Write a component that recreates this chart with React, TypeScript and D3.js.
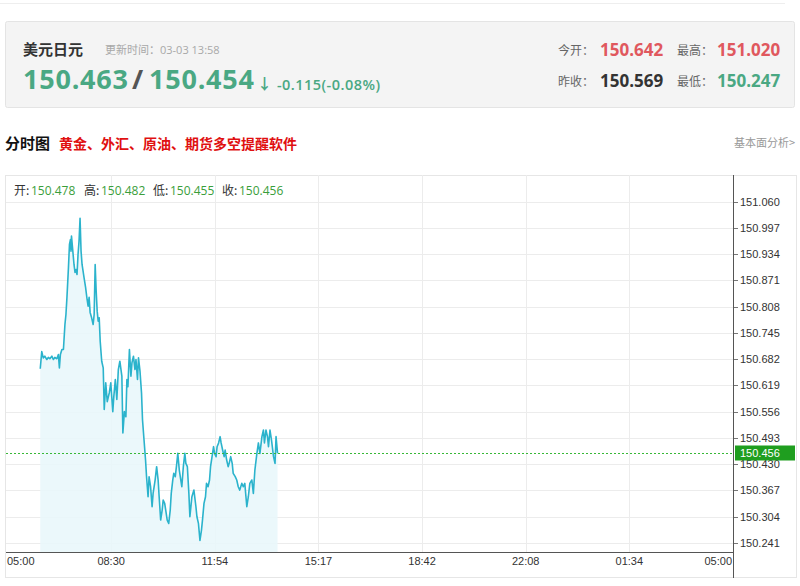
import React from 'react';
import * as d3 from 'd3';

// quote header
const quoteName = '美元日元';
const updateTime = '更新时间：03-03 13:58';
const bidAsk = ['150.463', '150.454'];
const change = '-0.115(-0.08%)';
const statLabels = ['今开：', '最高：', '昨收：', '最低：'];
const statValues = ['150.642', '151.020', '150.569', '150.247'];
const ohlcLabels = ['开:', '高:', '低:', '收:'];
const ohlcValues = ['150.478', '150.482', '150.455', '150.456'];
const lastPrice = 150.456;

// axes
const yTicks = [151.060, 150.997, 150.934, 150.871, 150.808, 150.745, 150.682, 150.619,
    150.556, 150.493, 150.430, 150.367, 150.304, 150.241];
const xTickLabels = ['05:00', '08:30', '11:54', '15:17', '18:42', '22:08', '01:34', '05:00'];

// intraday series (time, price)
const times = [
    '06:05', '06:08', '06:11', '06:14', '06:18', '06:21', '06:24', '06:28', '06:31', '06:34',
    '06:38', '06:41', '06:43', '06:45', '06:48', '06:51', '06:54', '06:56', '06:58', '07:01',
    '07:03', '07:05', '07:06', '07:07', '07:09', '07:12', '07:14', '07:16', '07:18', '07:20',
    '07:22', '07:24', '07:26', '07:28', '07:32', '07:35', '07:38', '07:40', '07:42', '07:44',
    '07:47', '07:50', '07:52', '07:54', '07:56', '07:58', '08:00', '08:02', '08:04', '08:07',
    '08:10', '08:12', '08:15', '08:18', '08:22', '08:25', '08:29', '08:31', '08:34', '08:37',
    '08:40', '08:43', '08:47', '08:49', '08:52', '08:55', '08:57', '08:59', '09:02', '09:05',
    '09:07', '09:10', '09:13', '09:15', '09:18', '09:20', '09:23', '09:26', '09:28', '09:31',
    '09:34', '09:36', '09:39', '09:41', '09:44', '09:47', '09:49', '09:53', '09:56', '09:59',
    '10:01', '10:04', '10:07', '10:09', '10:12', '10:15', '10:17', '10:20', '10:23', '10:25',
    '10:28', '10:30', '10:33', '10:36', '10:38', '10:41', '10:44', '10:46', '10:49', '10:52',
    '10:54', '10:57', '11:00', '11:02', '11:06', '11:10', '11:14', '11:16', '11:19', '11:22',
    '11:25', '11:27', '11:30', '11:33', '11:35', '11:38', '11:41', '11:43', '11:46', '11:49',
    '11:51', '11:54', '11:56', '11:59', '12:02', '12:04', '12:07', '12:10', '12:12', '12:15',
    '12:18', '12:20', '12:23', '12:26', '12:28', '12:32', '12:35', '12:38', '12:41', '12:45',
    '12:48', '12:51', '12:55', '12:58', '13:01', '13:05', '13:08', '13:11', '13:15', '13:18',
    '13:21', '13:25', '13:28', '13:30', '13:33', '13:36', '13:38', '13:41', '13:44', '13:48',
    '13:51', '13:53', '13:56'
];
const prices = [
    150.659, 150.700, 150.685, 150.689, 150.681, 150.686, 150.683, 150.689, 150.681, 150.686,
    150.683, 150.693, 150.661, 150.693, 150.705, 150.705, 150.765, 150.789, 150.830, 150.902,
    150.957, 150.969, 150.941, 150.977, 150.950, 150.909, 150.890, 150.897, 150.885, 150.933,
    150.965, 151.020, 150.941, 150.909, 150.877, 150.854, 150.825, 150.809, 150.830, 150.794,
    150.781, 150.765, 150.789, 150.909, 150.845, 150.797, 150.773, 150.781, 150.725, 150.677,
    150.661, 150.561, 150.625, 150.580, 150.601, 150.625, 150.556, 150.592, 150.633, 150.585,
    150.657, 150.677, 150.641, 150.505, 150.556, 150.544, 150.633, 150.616, 150.705, 150.641,
    150.673, 150.689, 150.657, 150.681, 150.633, 150.685, 150.653, 150.601, 150.536, 150.488,
    150.440, 150.400, 150.352, 150.400, 150.376, 150.328, 150.360, 150.392, 150.424, 150.392,
    150.352, 150.296, 150.320, 150.344, 150.336, 150.312, 150.296, 150.288, 150.320, 150.360,
    150.392, 150.408, 150.400, 150.432, 150.456, 150.416, 150.392, 150.376, 150.424, 150.456,
    150.432, 150.424, 150.360, 150.304, 150.352, 150.368, 150.328, 150.304, 150.288, 150.247,
    150.272, 150.296, 150.336, 150.352, 150.384, 150.376, 150.392, 150.424, 150.448, 150.472,
    150.456, 150.448, 150.472, 150.481, 150.496, 150.481, 150.464, 150.448, 150.464, 150.440,
    150.424, 150.432, 150.448, 150.432, 150.408, 150.400, 150.392, 150.376, 150.368, 150.384,
    150.376, 150.384, 150.328, 150.352, 150.384, 150.392, 150.360, 150.416, 150.456, 150.481,
    150.456, 150.496, 150.512, 150.481, 150.512, 150.496, 150.472, 150.512, 150.488, 150.448,
    150.432, 150.496, 150.456
];

const FONT = "'Open Sans', 'Noto Sans CJK SC', sans-serif";
const CJK = "'Noto Sans CJK SC', sans-serif";
const AXIS_FONT = "'Liberation Sans', Arial, sans-serif";
const GREEN = '#4aa883';
const RED = '#e0585e';

// minutes since 05:00 (session start)
const toMinutes = (t: string) => {
    const [h, m] = t.split(':').map(Number);
    return (h * 60 + m - 300 + 1440) % 1440;
};

const App: React.FC = () => {
    const width = 800;
    const height = 586;
    const plot = { left: 6, right: 733, top: 175, bottom: 552 };

    const x = d3.scaleLinear().domain([0, 1440]).range([7.5, plot.right]);
    const y = d3.scaleLinear().domain([150.241, 151.060]).range([543, 201.5]);

    const data = times.map((t, i) => ({ m: toMinutes(t), v: prices[i] }));

    const line = d3.line<{ m: number; v: number }>()
        .x(d => x(d.m))
        .y(d => y(d.v));
    const area = d3.area<{ m: number; v: number }>()
        .x(d => x(d.m))
        .y0(plot.bottom)
        .y1(d => y(d.v));

    const xTickPos = xTickLabels.map((_, i) => x((i * 1440) / 7));
    const fmt = d3.format('.3f');
    const lastY = Math.round(y(lastPrice)) + 0.5;

    return (
        <div style={{ position: 'absolute', left: 0, top: 0, width, height, background: '#fff' }}>
            <svg width={width} height={height} style={{ display: 'block' }}>
                <line x1={0} x2={785} y1={3.5} y2={3.5} stroke="#eeeeee" />

                {/* quote panel */}
                <rect x={5.5} y={21.5} width={789} height={86} fill="#f4f4f4" stroke="#e4e4e4" rx={2} />
                <text x={23} y={55} fontFamily={CJK} fontSize={15} fontWeight={700} fill="#333">{quoteName}</text>
                <text x={105} y={54} fontFamily={FONT} fontSize={11} fill="#a8a8a8">{updateTime}</text>
                <text x={23} y={89} fontFamily={FONT} fontSize={27} fontWeight={700} fill={GREEN} textLength={105}>{bidAsk[0]}</text>
                <text x={132} y={89} fontFamily={FONT} fontSize={27} fontWeight={700} fill="#555">/</text>
                <text x={149} y={89} fontFamily={FONT} fontSize={27} fontWeight={700} fill={GREEN} textLength={105}>{bidAsk[1]}</text>
                <text x={257} y={89} fontFamily={FONT} fontSize={15} fontWeight={700} fill={GREEN}>↓</text>
                <text x={277} y={90} fontFamily={FONT} fontSize={14.5} fontWeight={600} fill={GREEN} textLength={103}>{change}</text>

                {statLabels.map((lab, i) => {
                    const col = i % 2;
                    const row = Math.floor(i / 2);
                    const lx = col === 0 ? 558 : 677;
                    const vx = col === 0 ? 600 : 717;
                    const ty = row === 0 ? 56 : 87;
                    const colr = i === 2 ? '#333' : i === 3 ? GREEN : RED;
                    return (
                        <g key={lab}>
                            <text x={lx} y={ty - 1} fontFamily={CJK} fontSize={12} fill="#666">{lab}</text>
                            <text x={vx} y={ty} fontFamily={FONT} fontSize={17} fontWeight={700} fill={colr}>{statValues[i]}</text>
                        </g>
                    );
                })}

                {/* section title */}
                <text x={5} y={149} fontFamily={CJK} fontSize={15} fontWeight={700} fill="#111">分时图</text>
                <text x={59} y={149} fontFamily={CJK} fontSize={14} fontWeight={700} fill="#e01010">黄金、外汇、原油、期货多空提醒软件</text>
                <text x={795} y={147} textAnchor="end" fontFamily={CJK} fontSize={11} fill="#999">基本面分析&gt;</text>

                {/* chart frame */}
                <rect x={5.5} y={175.5} width={791} height={402} fill="#fff" stroke="#e6e6e6" />

                {/* grid */}
                {yTicks.map(t => (
                    <line key={'g' + t} x1={plot.left} x2={plot.right} y1={Math.round(y(t)) + 0.5} y2={Math.round(y(t)) + 0.5} stroke="#ececec" />
                ))}
                {xTickPos.slice(1, -1).map((px, i) => (
                    <line key={'v' + i} x1={Math.round(px) + 0.5} x2={Math.round(px) + 0.5} y1={plot.top} y2={plot.bottom} stroke="#ececec" />
                ))}

                {/* series */}
                <path d={area(data) || ''} fill="#e9f7fb" fillOpacity={0.9} />
                <path d={line(data) || ''} fill="none" stroke="#2bb3cc" strokeWidth={1.6} strokeLinejoin="round" />

                {/* last price */}
                <line x1={plot.left} x2={plot.right} y1={lastY} y2={lastY} stroke="#37b837" strokeDasharray="2,2" />

                {/* axes */}
                <line x1={plot.left} x2={plot.right} y1={plot.bottom + 0.5} y2={plot.bottom + 0.5} stroke="#555" />
                <line x1={plot.right + 0.5} x2={plot.right + 0.5} y1={plot.top} y2={578} stroke="#555" />
                {yTicks.map(t => (
                    <g key={'t' + t} transform={`translate(${plot.right},${Math.round(y(t)) + 0.5})`}>
                        <line x1={1} x2={5} stroke="#777" />
                        <text x={7} dy="0.35em" fontFamily={AXIS_FONT} fontSize={11} fill="#333">{fmt(t)}</text>
                    </g>
                ))}
                {xTickLabels.map((lab, i) => (
                    <text key={'x' + i} x={i === 0 ? 7 : i === xTickLabels.length - 1 ? plot.right - 1 : xTickPos[i]}
                        y={565} textAnchor={i === 0 ? 'start' : i === xTickLabels.length - 1 ? 'end' : 'middle'}
                        fontFamily={AXIS_FONT} fontSize={11} fill="#333">{lab}</text>
                ))}

                {/* last price tag */}
                <rect x={735} y={lastY - 8} width={60} height={15} fill="#1f9e1f" />
                <text x={740} y={lastY} dy="0.35em" fontFamily={AXIS_FONT} fontSize={11} fill="#fff">{fmt(lastPrice)}</text>

                {/* ohlc info */}
                {ohlcLabels.map((lab, i) => {
                    const lx = [14, 84, 153, 222][i];
                    return (
                        <g key={lab}>
                            <text x={lx} y={195} fontFamily={CJK} fontSize={12} fill="#333">{lab}</text>
                            <text x={lx + 17} y={195} fontFamily={FONT} fontSize={12} fill="#3a9e3a">{ohlcValues[i]}</text>
                        </g>
                    );
                })}
            </svg>
        </div>
    );
};

export default App;
